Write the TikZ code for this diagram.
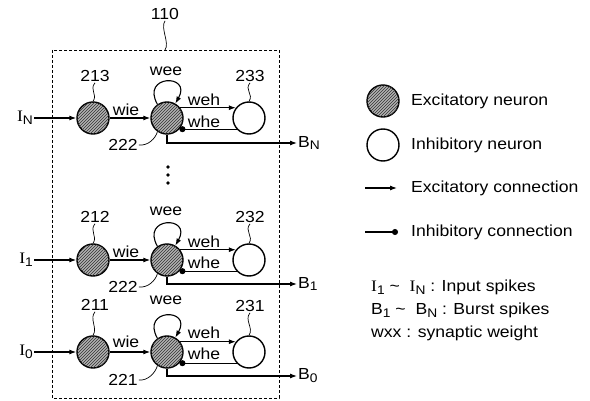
\documentclass[tikz,border=0pt]{standalone}
\usepackage{fontspec}
\setmainfont[FakeStretch=1.1]{Liberation Sans}
\newfontfamily\serI[FakeStretch=1.1]{Liberation Serif}
\usetikzlibrary{arrows.meta,patterns}
\tikzset{
  exn/.style={circle,draw=black,line width=1.4pt,minimum size=32pt,inner sep=0pt,fill=black!30,
    postaction={pattern=north east lines,pattern color=black!80}},
  inn/.style={circle,draw=black,line width=1.4pt,minimum size=32pt,inner sep=0pt,fill=white},
  exc/.style={-{Latex[length=7pt,width=5pt]},line width=1.1pt},
  inh/.style={-{Circle[length=6pt]},line width=1.1pt},
  wv/.style={line width=.7pt},
  box/.style={dashed,line width=.8pt,dash pattern=on 3pt off 2pt},
  lb/.style={font=\fontsize{16}{18}\selectfont,inner sep=1pt},
  wt/.style={font=\fontsize{16}{18}\selectfont,inner sep=1pt},
}
\newcommand{\lowsub}[1]{\raisebox{-.35ex}{\fontsize{12.5}{12.5}\selectfont #1}}
\newcommand{\inpI}{{\serI I}}

\begin{document}
\begin{tikzpicture}[x=1pt,y=-1pt]
\useasboundingbox (0,0) rectangle (590,401);
% ---- enclosing block 110
\draw[box] (52,50) rectangle (279,398);
\coordinate (boxtop) at (165,50);
\node[lb] (t110) at (165,14) {110};
\draw[wv] (t110.south) .. controls +(-5,7) and +(5,-7) .. (boxtop);
% ---- row N
\node[exn] (sN) at (93,118) {};
\node[exn] (eN) at (167,118) {};
\node[inn] (hN) at (249,118) {};
\node[lb,anchor=east] (iN) at (34,118) {\inpI\lowsub{N}};
\node[lb,anchor=west] (bN) at (297,143) {B\lowsub{N}};
\node[lb] (t213) at (95,76) {213};
\node[lb] (t233) at (250,76) {233};
\node[lb] (t222N) at (123,145) {222};
\node[wt] (weeN) at (166,71) {wee};
\node[wt] (wieN) at (126,110) {wie};
\node[wt] (wehN) at (204,100) {weh};
\node[wt] (wheN) at (204,122) {whe};
\draw[exc] (iN.east) -- (sN.west);
\draw[exc] (sN) -- (eN);
\draw[exc] (eN.38) -- (hN.142);
\draw[inh] (hN.-138) -- (eN.-42);
\draw[exc] (eN.125) .. controls +(-17,-30) and +(17,-30) .. (eN.60);
\draw[exc] (eN.south) |- (bN.west);
\draw[wv] (t213.south) .. controls +(-6,7) and +(5,-7) .. (sN.north);
\draw[wv] (t233.south) .. controls +(-6,7) and +(5,-7) .. (hN.north);
\draw[wv] (t222N.east) .. controls +(9,1) and +(-2,7) .. (eN.235);
% ---- dots
\foreach \yy in {167,175,183} \fill (168,\yy) circle (1.8pt);
% ---- row 1
\node[exn] (s1) at (93,260) {};
\node[exn] (e1) at (167,260) {};
\node[inn] (h1) at (249,260) {};
\node[lb,anchor=east] (i1) at (34,260) {\inpI\lowsub{1}};
\node[lb,anchor=west] (b1) at (297,284) {B\lowsub{1}};
\node[lb] (t212) at (95,217) {212};
\node[lb] (t232) at (250,217) {232};
\node[lb] (t222) at (123,287) {222};
\node[wt] (wee1) at (166,211) {wee};
\node[wt] (wie1) at (126,252) {wie};
\node[wt] (weh1) at (204,242) {weh};
\node[wt] (whe1) at (204,263) {whe};
\draw[exc] (i1.east) -- (s1.west);
\draw[exc] (s1) -- (e1);
\draw[exc] (e1.38) -- (h1.142);
\draw[inh] (h1.-138) -- (e1.-42);
\draw[exc] (e1.125) .. controls +(-17,-30) and +(17,-30) .. (e1.60);
\draw[exc] (e1.south) |- (b1.west);
\draw[wv] (t212.south) .. controls +(-6,7) and +(5,-7) .. (s1.north);
\draw[wv] (t232.south) .. controls +(-6,7) and +(5,-7) .. (h1.north);
\draw[wv] (t222.east) .. controls +(9,1) and +(-2,7) .. (e1.235);
% ---- row 0
\node[exn] (s0) at (93,352) {};
\node[exn] (e0) at (167,352) {};
\node[inn] (h0) at (249,352) {};
\node[lb,anchor=east] (i0) at (34,352) {\inpI\lowsub{0}};
\node[lb,anchor=west] (b0) at (297,376) {B\lowsub{0}};
\node[lb] (t211) at (95,305) {211};
\node[lb] (t231) at (250,306) {231};
\node[lb] (t221) at (123,380) {221};
\node[wt] (wee0) at (166,300) {wee};
\node[wt] (wie0) at (126,342) {wie};
\node[wt] (weh0) at (204,333) {weh};
\node[wt] (whe0) at (204,354) {whe};
\draw[exc] (i0.east) -- (s0.west);
\draw[exc] (s0) -- (e0);
\draw[exc] (e0.38) -- (h0.142);
\draw[inh] (h0.-138) -- (e0.-42);
\draw[exc] (e0.125) .. controls +(-17,-30) and +(17,-30) .. (e0.60);
\draw[exc] (e0.south) |- (b0.west);
\draw[wv] (t211.south) .. controls +(-6,7) and +(5,-7) .. (s0.north);
\draw[wv] (t231.south) .. controls +(-6,7) and +(5,-7) .. (h0.north);
\draw[wv] (t221.east) .. controls +(9,1) and +(-2,7) .. (e0.235);
% ---- legend
\node[exn] (lgE) at (383,101) {};
\node[inn] (lgI) at (383,145) {};
\node[lb,anchor=west] (lgEt) at (410,101) {Excitatory neuron};
\node[lb,anchor=west] (lgIt) at (410,145) {Inhibitory neuron};
\coordinate (lxa) at (365,188); \coordinate (lxb) at (397,188);
\coordinate (lia) at (365,232); \coordinate (lib) at (398,232);
\draw[exc] (lxa) -- (lxb);
\draw[inh] (lia) -- (lib);
\node[lb,anchor=west] (lgXt) at (410,188) {Excitatory connection};
\node[lb,anchor=west] (lgHt) at (410,232) {Inhibitory connection};
\node[lb,anchor=west] (lgIn) at (370,287)
  {\inpI\lowsub{1} \textasciitilde\ \ \inpI\lowsub{N} : Input spikes};
\node[lb,anchor=west] (lgBu) at (370,310)
  {B\lowsub{1} \textasciitilde\ \ B\lowsub{N} : Burst spikes};
\node[lb,anchor=west] (lgW) at (370,333) {wxx : synaptic weight};
\end{tikzpicture}
\end{document}
